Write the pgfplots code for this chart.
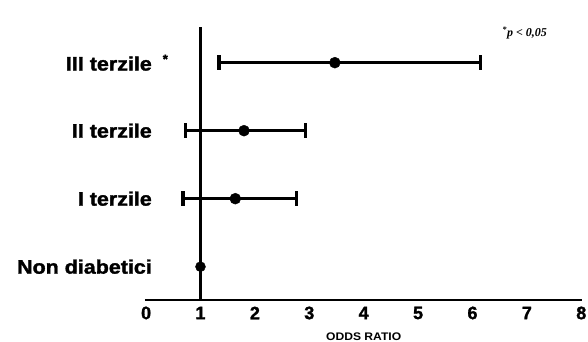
\documentclass[border=0pt]{standalone}
\usepackage{pgfplots}
\usepackage{pgfplotstable}
\pgfplotsset{compat=1.18}
\usepackage{fontspec}
\setmainfont{Liberation Sans}
\newfontfamily\heavy[BoldFeatures={FakeBold=1.5}]{Liberation Sans}
\newfontfamily\serifit{Liberation Serif}
\pgfplotstableread{
x y em ep
1.64 2 0.96 1.12
1.80 3 1.08 1.13
3.47 4 2.13 2.68
}\terziles
\pgfplotstableread{
x y
1.00 1
}\nondiab
\newcommand\lab[1]{\scalebox{1.1}[1]{#1}}
\begin{document}
\begin{tikzpicture}
\path[use as bounding box] (-145bp,-42bp) rectangle (443bp,300bp);
\begin{axis}[
  x=54.4bp, y=68bp,
  xmin=-0.02, xmax=8.02, ymin=0.51, ymax=4.525,
  axis x line*=bottom, axis y line*=left,
  y axis line style={draw=none},
  x axis line style={line width=2.6bp, -},
  major tick length=0pt,
  xtick={0,1,2,3,4,5,6,7,8},
  ytick={1,2,3,4},
  yticklabels={\lab{Non diabetici}, \lab{I terzile}, \lab{II terzile}, {\lab{III terzile}\rlap{\hspace{11bp}\raisebox{7bp}{\fontsize{13bp}{13bp}\selectfont *}}}},
  yticklabel style={anchor=east, inner sep=0pt, xshift=7bp, font=\fontsize{19.5bp}{21bp}\selectfont\heavy\bfseries},
  xticklabel style={anchor=center, inner sep=0pt, yshift=-13bp, font=\fontsize{18bp}{20bp}\selectfont\heavy\bfseries},
  /pgf/number format/assume math mode=true,
  xlabel={\scalebox{1.1}[1]{ODDS RATIO}},
  xlabel style={at={(axis description cs:0.5,0)}, anchor=center, inner sep=0pt, yshift=-36.5bp, font=\fontsize{11bp}{12bp}\selectfont\bfseries},
  clip=false,
]
\addplot[black, line width=2.8bp] coordinates {(1,0.51) (1,4.525)};
\addplot[black, only marks, mark=none,
  error bars/.cd, x dir=both, x explicit,
  error mark=none,
  error bar style={line width=2.6bp}]
  table[x=x, y=y, x error minus=em, x error plus=ep] {\terziles};
\addplot[black, only marks, mark=|, mark size=7.5bp, mark options={line width=3.2bp}]
  table[x expr=\thisrow{x}-\thisrow{em}, y=y] {\terziles};
\addplot[black, only marks, mark=|, mark size=7.5bp, mark options={line width=3.2bp}]
  table[x expr=\thisrow{x}+\thisrow{ep}, y=y] {\terziles};
\addplot[black, only marks, mark=*, mark size=5.5bp] table[x=x, y=y] {\terziles};
\addplot[black, only marks, mark=*, mark size=5bp] table[x=x, y=y] {\nondiab};
\node[font=\fontsize{12bp}{13bp}\selectfont\serifit\itshape\bfseries, anchor=center] at (axis cs:6.96,4.437) {\textsuperscript{*}p < 0,05};
\end{axis}
\end{tikzpicture}
\end{document}
